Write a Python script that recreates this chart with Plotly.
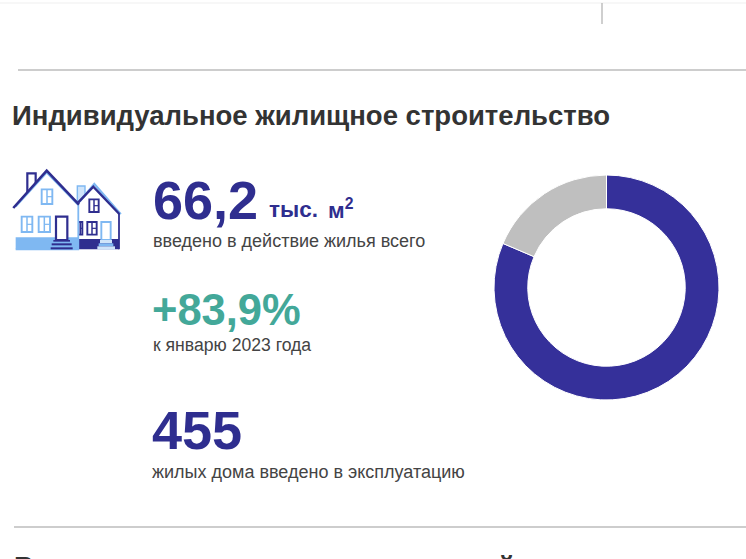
import plotly.graph_objects as go

# Данные диаграммы
donut_labels = ["Индивидуальное жилье", "Остальное"]
donut_values = [81.4, 18.6]
donut_colors = ["#35309a", "#bfbfbf"]

BLUE = "#2f2e8f"
LIGHT = "#7fb8f2"
TEAL = "#43a899"
GREY = "#444444"
W, H = 746, 559

fig = go.Figure()

# Кольцевая диаграмма
fig.add_trace(go.Pie(labels=donut_labels, values=donut_values, hole=0.70, sort=False, direction="clockwise",
                     rotation=0, textinfo="none", showlegend=False,
                     marker=dict(colors=donut_colors, line=dict(color="white", width=1)),
                     domain=dict(x=[494 / W, 719 / W], y=[1 - 400 / H, 1 - 175 / H])))


def line(x0, y0, x1, y1, color, width=1.0):
    fig.add_shape(type="line", x0=x0, y0=y0, x1=x1, y1=y1, xref="x", yref="y", line=dict(color=color, width=width))


def box(x0, y0, x1, y1, color="white", edge=None, width=1.5):
    fig.add_shape(type="rect", x0=x0, y0=y0, x1=x1, y1=y1, xref="x", yref="y", fillcolor=color,
                  line=dict(color=edge or color, width=width if edge else 0))


def poly(points, color, width=2.0, fill="rgba(0,0,0,0)"):
    path = "M " + " L ".join(f"{x / 3:.1f},{160 + y / 3:.1f}" for x, y in points)
    fig.add_shape(type="path", path=path, xref="x", yref="y", fillcolor=fill, line=dict(color=color, width=width))


def zbox(x0, y0, x1, y1, color="white", edge=None, width=1.5):
    box(x0 / 3, 160 + y0 / 3, x1 / 3, 160 + y1 / 3, color, edge, width)


def window(x0, y0, x1, y1, color):
    zbox(x0, y0, x1, y1, "white", color, 1.9)
    mid = x0 + (x1 - x0) * 0.5
    line(mid / 3, 160 + y0 / 3, mid / 3, 160 + y1 / 3, color, 1.5)
    line(mid / 3, 160 + (y0 + y1) / 2 / 3, x1 / 3, 160 + (y0 + y1) / 2 / 3, color, 1.2)


# Разделители
line(0, 3, W, 3, "#efefef", 1)
line(602, 3, 602, 24, "#b5b5b5", 1.3)
line(18, 70, W, 70, "#bdbdbd", 1.3)
line(14, 527, W, 527, "#bdbdbd", 1.3)

# Иконка домов: правый дом
zbox(232, 78, 255, 125, "#cfe4fa", LIGHT, 1.4)
poly([(235, 130), (283, 72), (362, 163)], LIGHT, 2.4)
poly([(235, 135), (281, 82), (357, 160), (357, 268), (235, 268)], "white", 0.5, "white")
zbox(235, 237, 357, 268, BLUE)
line(357 / 3, 160 + 160 / 3, 357 / 3, 160 + 268 / 3, BLUE, 1.8)
poly([(235, 127), (280, 80), (358, 162)], BLUE, 2.4)
window(268, 118, 296, 156, BLUE)
window(262, 186, 290, 224, BLUE)
window(235, 186, 247, 224, BLUE)
zbox(304, 186, 332, 240, "white", LIGHT, 1.9)
zbox(300, 240, 336, 250, "#cfe4fa")
zbox(296, 250, 340, 259, LIGHT)
zbox(292, 259, 345, 269, "#cfe4fa")

# Иконка домов: левый дом
zbox(82, 40, 107, 100, "white", BLUE, 2.2)
poly([(47, 140), (140, 38), (235, 135), (235, 268), (47, 268)], LIGHT, 1.8, "white")
zbox(47, 232, 235, 268, LIGHT)
poly([(40, 144), (140, 32), (237, 134)], BLUE, 2.6)
window(125, 88, 157, 132, LIGHT)
window(65, 170, 97, 216, LIGHT)
window(116, 170, 150, 216, LIGHT)
zbox(168, 170, 202, 240, "white", BLUE, 2.2)
zbox(160, 240, 210, 245, BLUE)
zbox(155, 250, 215, 256, BLUE)
zbox(152, 262, 218, 268, BLUE)


def label(x, y, text, size, color, bold=True):
    fig.add_annotation(x=x / W, y=1 - y / H, xref="paper", yref="paper", text=f"<b>{text}</b>" if bold else text,
                       showarrow=False, xanchor="left", yanchor="middle", align="left", borderpad=0,
                       font=dict(family="Liberation Sans", size=size, color=color))


label(11, 115, "Индивидуальное жилищное строительство", 27.5, "#333333")
label(152, 200, "66,2", 54, BLUE)
label(268, 209, "тыс.", 22.5, BLUE)
label(327, 209, "м<sup>2</sup>", 22.5, BLUE)
label(152, 241, "введено в действие жилья всего", 18, GREY, bold=False)
label(151, 310, "+83,9%", 43.5, TEAL)
label(152, 345, "к январю 2023 года", 17.6, GREY, bold=False)
label(151, 430, "455", 54, BLUE)
label(151, 472, "жилых дома введено в эксплуатацию", 18, GREY, bold=False)
# Следующий заголовок обрезан краем снимка, видны только верхушки букв
label(13, 566, "В", 27.5, "#333333")
label(497, 566, "й", 27.5, "#333333")

fig.update_layout(width=W, height=H, margin=dict(l=0, r=0, t=0, b=0), paper_bgcolor="white", plot_bgcolor="white",
                  xaxis=dict(range=[0, W], visible=False, fixedrange=True),
                  yaxis=dict(range=[H, 0], visible=False, fixedrange=True))

fig.write_html("out.html", config={"displayModeBar": False},
               post_script="document.body.style.margin='0';document.body.style.overflow='hidden';")
